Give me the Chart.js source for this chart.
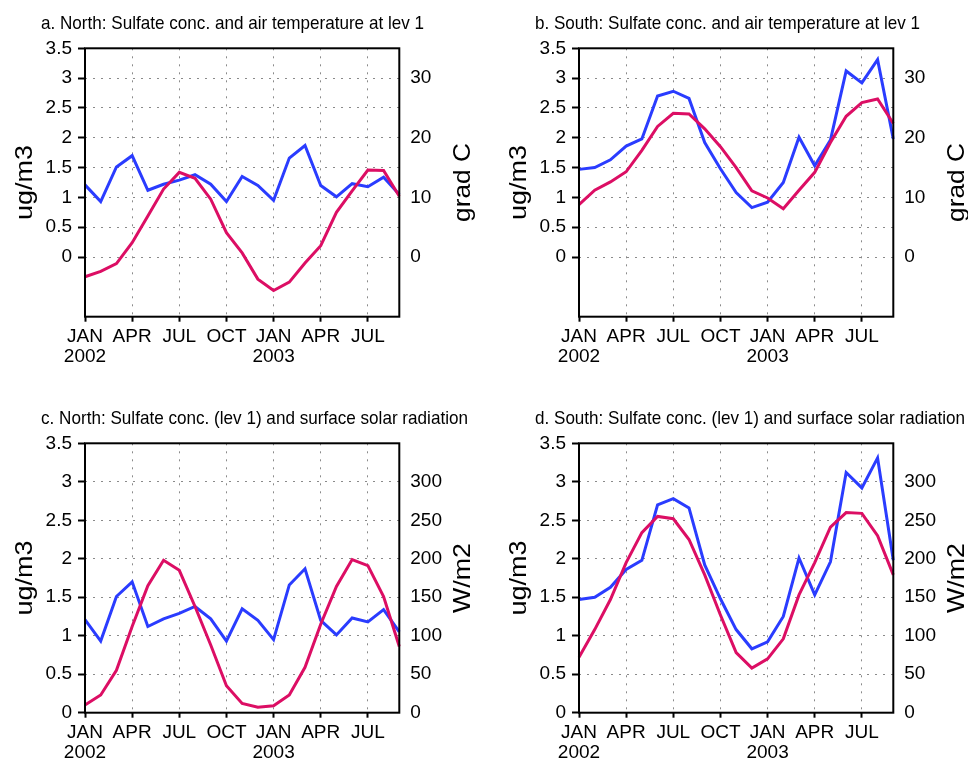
<!DOCTYPE html>
<html>
<head>
<meta charset="utf-8">
<script src="https://cdn.jsdelivr.net/npm/chart.js@4.4.1/dist/chart.umd.min.js"></script>
<style>
  body { margin: 0; background: #fff; width: 968px; height: 760px; position: relative; overflow: hidden; }
  canvas { position: absolute; }
</style>
</head>
<body>
<canvas id="pa" width="484" height="380" style="left:0;top:0"></canvas>
<canvas id="pb" width="484" height="380" style="left:484px;top:0"></canvas>
<canvas id="pc" width="484" height="380" style="left:0;top:380px"></canvas>
<canvas id="pd" width="484" height="380" style="left:484px;top:380px"></canvas>
<script>
// months JAN 2002 .. SEP 2003
let months = ['JAN','FEB','MAR','APR','MAY','JUN','JUL','AUG','SEP','OCT','NOV','DEC',
              'JAN','FEB','MAR','APR','MAY','JUN','JUL','AUG','SEP']
let yearStarts = [0, 12]
let years = ['2002', '2003']

// sulfate conc. at lev 1 (ug/m3)
let northSulfate = [1.21,0.93,1.51,1.70,1.12,1.22,1.29,1.38,1.22,0.93,1.35,1.20,0.95,1.66,1.87,1.20,1.01,1.23,1.18,1.34,1.05]
let southSulfate = [1.47,1.50,1.63,1.86,1.98,2.70,2.78,2.66,1.92,1.48,1.08,0.83,0.92,1.25,2.01,1.53,1.96,3.12,2.92,3.31,1.98]

// air temperature at lev 1 (grad C)
let northTemp = [-3.3,-2.4,-1.1,2.4,6.9,11.4,14.2,13.2,9.7,4.1,0.7,-3.7,-5.6,-4.2,-1.0,1.9,7.5,11.1,14.6,14.5,10.2]
let southTemp = [8.8,11.2,12.6,14.3,17.9,21.9,24.1,24.0,21.5,18.5,15.0,11.1,9.9,8.1,11.2,14.2,19.2,23.6,25.9,26.5,22.4]

// surface solar radiation (W/m2)
let northRad = [10,23,55,112,165,198,185,138,88,35,12,7,9,23,59,115,164,199,191,151,86]
let southRad = [72,108,147,195,234,255,252,225,179,127,78,58,70,96,153,195,241,260,259,230,179]

// tick values
let concTicks = [0,0.5,1,1.5,2,2.5,3,3.5]
let tempTicks = [0,10,20,30]
let radTicks = [0,50,100,150,200,250,300]

const BLUE = '#2a3cff'
const RED = '#dc0e64'
const FONT = '"Liberation Sans", Arial, sans-serif'
const NONE = 'rgba(0,0,0,0)'

// draw text stretched/squeezed to a given length (GrADS-like lettering)
function fitText(ctx, text, x, y, len, size, rot, align) {
  ctx.save()
  ctx.font = size + 'px ' + FONT
  ctx.textAlign = align
  ctx.textBaseline = align == 'center' ? 'middle' : 'alphabetic'
  ctx.translate(x, y)
  ctx.rotate(rot)
  let w = ctx.measureText(text).width
  ctx.scale(len / w, 1)
  ctx.fillText(text, 0, 0)
  ctx.restore()
}

// frame, panel title and axis titles
const panelText = {
  id: 'panelText',
  afterDraw(chart, args, o) {
    const ctx = chart.ctx, a = chart.chartArea
    ctx.save()
    ctx.strokeStyle = '#000'
    ctx.lineWidth = 2
    ctx.strokeRect(a.left, a.top, a.right - a.left, a.bottom - a.top)
    ctx.fillStyle = '#000'
    let cy = (a.top + a.bottom) / 2
    fitText(ctx, o.title, a.left - 44, a.top - 19, o.titleLen, 19, 0, 'left')
    fitText(ctx, 'ug/m3', a.left - 60, cy, 75, 24, -Math.PI / 2, 'center')
    fitText(ctx, o.right, a.right + 64, cy, o.rightLen, 24, -Math.PI / 2, 'center')
    ctx.restore()
  }
}

function makePanel(id, p) {
  const W = 484, H = 380
  new Chart(document.getElementById(id), {
    type: 'line',
    data: {
      labels: months,
      datasets: [
        { data: p.red, yAxisID: 'y2', borderColor: RED, borderWidth: 3, pointRadius: 0, tension: 0, order: 0 },
        { data: p.blue, yAxisID: 'y', borderColor: BLUE, borderWidth: 3, pointRadius: 0, tension: 0, order: 1 }
      ]
    },
    options: {
      responsive: false,
      animation: false,
      layout: { padding: { top: p.T, left: 0, right: 0, bottom: 0 } },
      plugins: {
        legend: { display: false },
        tooltip: { enabled: false },
        panelText: { title: p.title, titleLen: p.titleLen, right: p.right, rightLen: p.rightLen }
      },
      scales: {
        x: {
          type: 'category',
          offset: false,
          afterFit: s => { s.height = H - p.B },
          border: { display: false, dash: [2, 6] },
          grid: {
            color: c => (c.index % 3 == 0 && c.index > 0) ? '#8a8a8a' : NONE,
            lineWidth: 1,
            tickColor: c => c.index % 3 == 0 ? '#000' : NONE,
            tickLength: 5,
            tickWidth: 2
          },
          ticks: {
            autoSkip: false,
            maxRotation: 0,
            padding: 5,
            color: '#000',
            font: { family: FONT, size: 19, lineHeight: 1.05 },
            callback: (v, i) => {
              if (i % 3 != 0) return ''
              let k = yearStarts.indexOf(i)
              return k >= 0 ? [months[i], years[k]] : months[i]
            }
          }
        },
        y: {
          position: 'left',
          min: p.ymin, max: 3.5,
          afterFit: s => { s.width = p.L },
          afterBuildTicks: s => { s.ticks = concTicks.map(v => ({ value: v })) },
          border: { display: false, dash: [2, 6] },
          grid: {
            color: c => (c.tick && c.tick.value < 3.5) ? '#8a8a8a' : NONE,
            lineWidth: 1,
            tickColor: '#000',
            tickLength: 7,
            tickWidth: 2
          },
          ticks: {
            padding: 6,
            color: '#000',
            font: { family: FONT, size: 19 },
            callback: v => String(v)
          }
        },
        y2: {
          position: 'right',
          min: p.rmin, max: p.rmax,
          afterFit: s => { s.width = W - p.R },
          afterBuildTicks: s => { s.ticks = p.rticks.map(v => ({ value: v })) },
          border: { display: false },
          grid: { drawOnChartArea: false, tickColor: NONE, tickLength: 4 },
          ticks: {
            padding: 7,
            color: '#000',
            font: { family: FONT, size: 19 },
            callback: v => String(v)
          }
        }
      }
    },
    plugins: [panelText]
  })
}

makePanel('pa', {
  title: 'a. North: Sulfate conc. and air temperature at lev 1', titleLen: 383,
  right: 'grad C', rightLen: 79,
  blue: northSulfate, red: northTemp,
  ymin: -1, rmin: -10, rmax: 35, rticks: tempTicks,
  L: 85, R: 399.3, T: 48.3, B: 316.7
})
makePanel('pb', {
  title: 'b. South: Sulfate conc. and air temperature at lev 1', titleLen: 385,
  right: 'grad C', rightLen: 79,
  blue: southSulfate, red: southTemp,
  ymin: -1, rmin: -10, rmax: 35, rticks: tempTicks,
  L: 95, R: 409.3, T: 48.3, B: 316.7
})
makePanel('pc', {
  title: 'c. North: Sulfate conc. (lev 1) and surface solar radiation', titleLen: 427,
  right: 'W/m2', rightLen: 70,
  blue: northSulfate, red: northRad,
  ymin: 0, rmin: 0, rmax: 350, rticks: radTicks,
  L: 85, R: 399.3, T: 63.3, B: 332.7
})
makePanel('pd', {
  title: 'd. South: Sulfate conc. (lev 1) and surface solar radiation', titleLen: 430,
  right: 'W/m2', rightLen: 70,
  blue: southSulfate, red: southRad,
  ymin: 0, rmin: 0, rmax: 350, rticks: radTicks,
  L: 95, R: 409.3, T: 63.3, B: 332.7
})
</script>
</body>
</html>
